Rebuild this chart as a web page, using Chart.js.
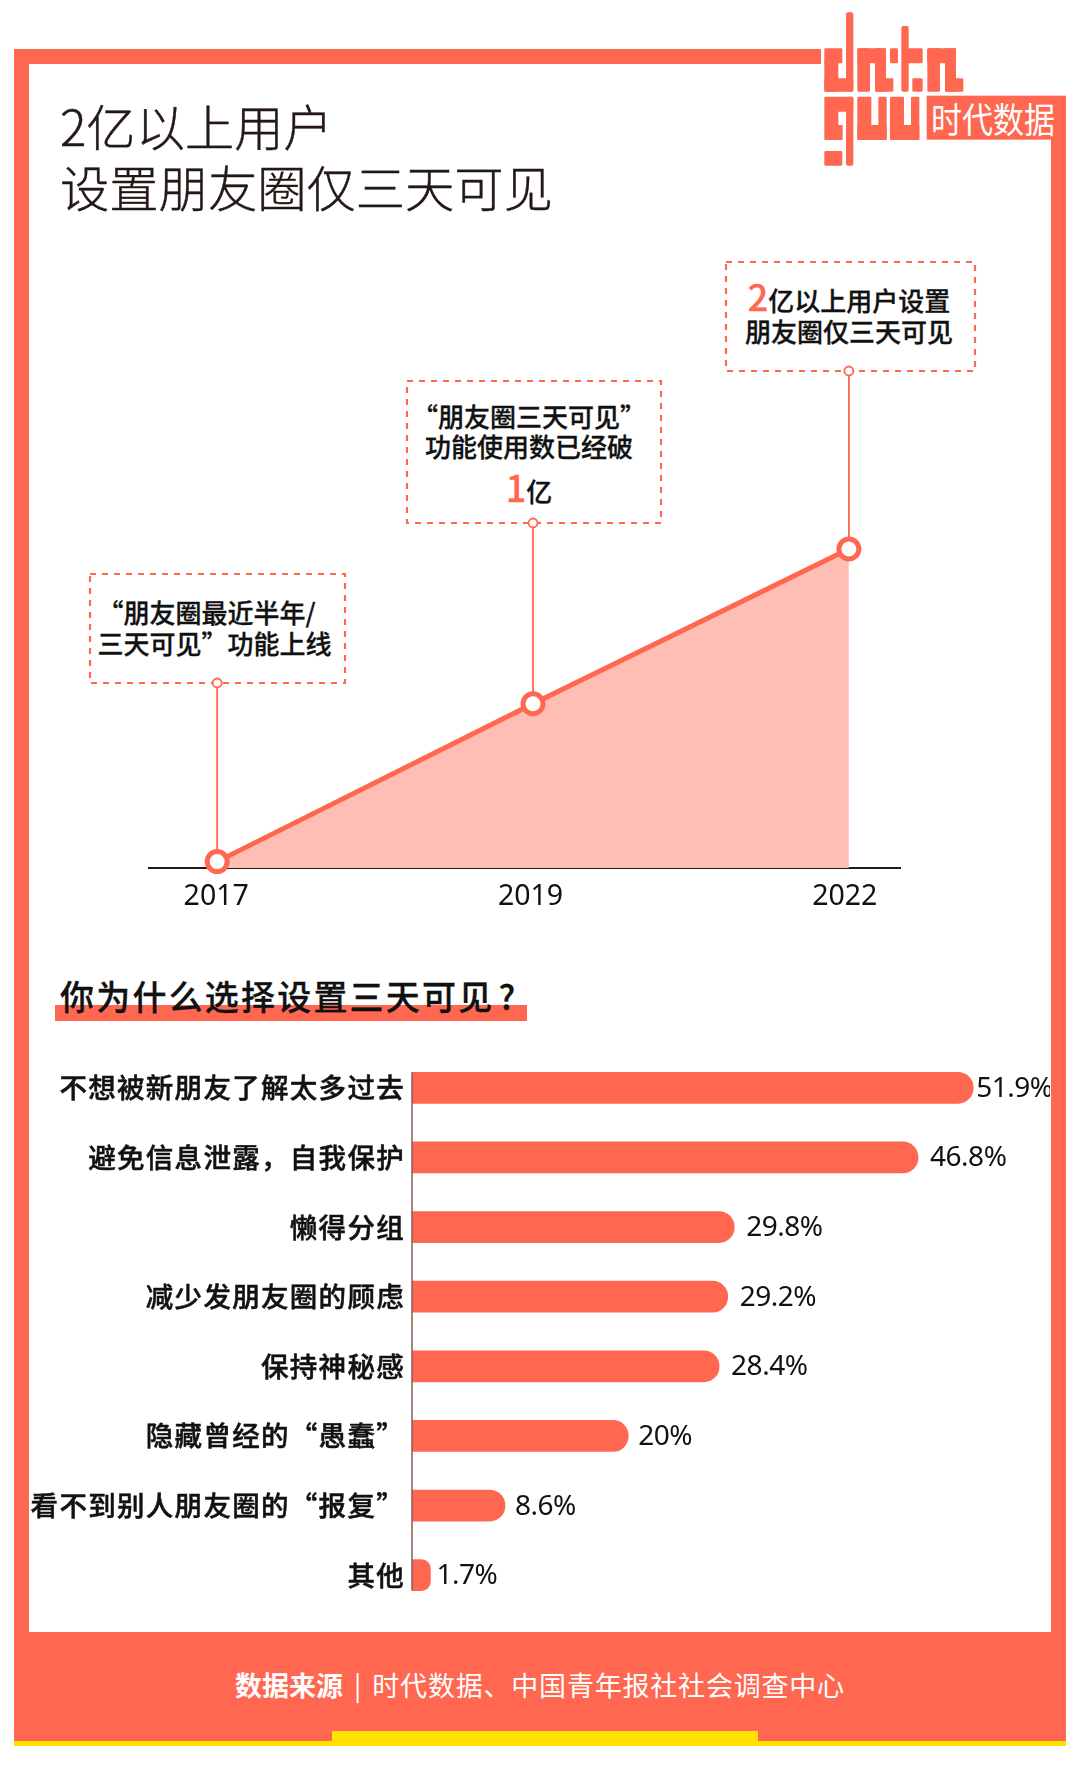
<!DOCTYPE html>
<html>
<head>
<meta charset="utf-8">
<script src="https://cdn.jsdelivr.net/npm/chart.js@4"></script>
<style>
  html, body { margin: 0; padding: 0; background: #fff; }
  body { position: relative; width: 1080px; height: 1767px; overflow: hidden; font-family: "Noto Sans CJK SC", "Noto Sans", sans-serif; color: #111; }
  .abs { position: absolute; }
  .orange { background: #ff6750; }
  .callout { position: absolute; text-align: center; font-size: 26px; font-weight: 500; line-height: 31px; white-space: nowrap; -webkit-text-stroke: 0.3px #111; }
  .callout b { color: #ff6750; font-weight: 500; font-size: 36px; -webkit-text-stroke: 0.3px #ff6750; }
  canvas { position: absolute; }
</style>
</head>
<body>
  <!-- frame -->
  <div class="abs orange" style="left:14px;top:49px;width:807px;height:15px"></div>
  <div class="abs orange" style="left:14px;top:49px;width:15px;height:1692px"></div>
  <div class="abs orange" style="left:1051px;top:96px;width:15px;height:1645px"></div>
  <div class="abs orange" style="left:14px;top:1632px;width:1052px;height:109px"></div>
  <div class="abs" style="left:14px;top:1741px;width:1052px;height:5px;background:#ffe100"></div>
  <div class="abs" style="left:332px;top:1731px;width:426px;height:10px;background:#ffe100"></div>

  <!-- logo -->
  <svg class="abs" style="left:780px;top:0" width="300" height="200" viewBox="0 0 900 600" fill="#ff6750">
    <defs>
      <g id="logoA">
        <rect x="0" y="0" width="38" height="130" rx="4"/><rect x="0" y="0" width="86" height="45" rx="4"/>
        <rect x="53" y="0" width="33" height="130" rx="4"/><rect x="53" y="90" width="55" height="40" rx="4"/>
      </g>
      <g id="logoO">
        <rect x="0" y="0" width="42" height="130" rx="4"/><rect x="63" y="0" width="25" height="130" rx="4"/><rect x="0" y="85" width="88" height="45" rx="4"/>
      </g>
    </defs>
    <rect x="133" y="145" width="54" height="45" rx="4"/><rect x="133" y="180" width="42" height="95" rx="4"/><rect x="133" y="235" width="87" height="40" rx="4"/><rect x="198" y="37" width="22" height="238" rx="6"/>
    <use href="#logoA" x="232" y="145"/>
    <rect x="330" y="145" width="24" height="45" rx="4"/><rect x="364" y="78" width="22" height="197" rx="6"/><rect x="380" y="145" width="48" height="45" rx="4"/><rect x="397" y="235" width="31" height="40" rx="4"/>
    <use href="#logoA" x="442" y="145"/>
    <rect x="133" y="290" width="87" height="45" rx="4"/><rect x="133" y="330" width="42" height="50" rx="4"/><rect x="133" y="375" width="55" height="45" rx="4"/><rect x="198" y="290" width="22" height="207" rx="6"/><rect x="133" y="453" width="54" height="44" rx="4"/>
    <use href="#logoO" x="232" y="290"/>
    <use href="#logoO" x="330" y="290"/>
    <rect x="440" y="287" width="417" height="132"/>
  </svg>
  <div class="abs" style="left:931px;top:96px;height:44px;line-height:44px;color:#fff;font-size:31px;font-weight:400;white-space:nowrap;transform:scaleY(1.12);transform-origin:0 50%">时代数据</div>

  <!-- title -->
  <div class="abs" style="left:60px;top:94px;font-size:49.3px;font-weight:300;line-height:61px;color:#231815;white-space:nowrap;-webkit-text-stroke:0.4px #231815">2亿以上用户<br>设置朋友圈仅三天可见</div>

  <!-- callouts -->
  <svg class="abs" style="left:0;top:0" width="1080" height="760" fill="none" stroke="#ff6750" stroke-width="2.2" stroke-dasharray="6 6">
    <rect x="90" y="574" width="255" height="109"/>
    <rect x="407" y="381" width="254" height="142"/>
    <rect x="726" y="262" width="249" height="109"/>
  </svg>
  <div class="callout" style="left:90px;top:596px;width:255px;padding-right:6px;box-sizing:border-box"><span style="position:relative;left:-8px">“朋友圈最近半年/</span><br>三天可见”功能上线</div>
  <div class="callout" style="left:407px;top:401px;width:254px;padding-right:10px;box-sizing:border-box;line-height:30px">“朋友圈三天可见”<br>功能使用数已经破<br><span style="position:relative;top:3px;line-height:44px"><b>1</b>亿</span></div>
  <div class="callout" style="left:726px;top:280px;width:249px;padding-right:3px;box-sizing:border-box"><b>2</b>亿以上用户设置<br>朋友圈仅三天可见</div>

  <!-- second heading -->
  <div class="abs" style="left:55px;top:1005px;width:472px;height:16px;background:#ff6750"></div>
  <div class="abs" style="left:60px;top:971px;font-size:34px;font-weight:500;line-height:50px;letter-spacing:2.2px;white-space:nowrap;-webkit-text-stroke:0.3px #111">你为什么选择设置三天可见<span style="margin-left:4px">?</span></div>

  <!-- footer -->
  <div class="abs" style="left:235px;top:1665px;font-size:27px;line-height:40px;color:#fff;white-space:nowrap"><span style="font-weight:700">数据来源</span><span style="margin:0 11px">|</span><span style="letter-spacing:0.8px">时代数据、中国青年报社社会调查中心</span></div>

  <canvas id="lineChart" style="left:148px;top:260px" width="753" height="658"></canvas>
  <canvas id="barChart" style="left:20px;top:1053px" width="1030" height="557"></canvas>

<script>
const years = ['2017', '2019', '2022'];
const users = [0.04, 1.03, 2];
const reasons = ['不想被新朋友了解太多过去', '避免信息泄露，自我保护', '懒得分组', '减少发朋友圈的顾虑', '保持神秘感', '隐藏曾经的“愚蠢”', '看不到别人朋友圈的“报复”', '其他'];
const shares = [51.9, 46.8, 29.8, 29.2, 28.4, 20, 8.6, 1.7];

const ORANGE = '#ff6750';
const calloutBottoms = [423, 263, 111]; // canvas y of each callout's lower edge

const leaders = {
  id: 'leaders',
  beforeDatasetsDraw(chart) {
    const { ctx } = chart;
    chart.getDatasetMeta(0).data.forEach((pt, i) => {
      ctx.save();
      ctx.strokeStyle = ORANGE;
      ctx.lineWidth = 1.8;
      ctx.beginPath();
      ctx.moveTo(pt.x, pt.y);
      ctx.lineTo(pt.x, calloutBottoms[i]);
      ctx.stroke();
      ctx.fillStyle = '#fff';
      ctx.beginPath();
      ctx.arc(pt.x, calloutBottoms[i], 4.5, 0, Math.PI * 2);
      ctx.fill();
      ctx.stroke();
      ctx.restore();
    });
  }
};

new Chart(document.getElementById('lineChart'), {
  type: 'line',
  data: {
    datasets: [{
      data: users.map((v, i) => ({ x: i, y: v })),
      borderColor: ORANGE,
      borderWidth: 5,
      backgroundColor: '#ffbeb4',
      fill: 'origin',
      tension: 0,
      pointRadius: 10,
      pointBorderWidth: 5,
      pointBackgroundColor: '#fff',
      pointBorderColor: ORANGE,
      clip: false,
    }],
  },
  options: {
    responsive: false,
    animation: false,
    layout: { autoPadding: false },
    plugins: { legend: { display: false }, tooltip: { enabled: false } },
    scales: {
      x: {
        type: 'linear',
        min: -0.219,
        max: 2.165,
        grid: { display: false },
        border: { color: '#231815', width: 2 },
        // year labels sit a touch left of the points in the original
        afterBuildTicks: (scale) => { scale.ticks = years.map((_, i) => ({ value: i * 0.995 - 0.003 })); },
        afterFit: (scale) => { scale.height = 50; },
        ticks: {
          autoSkip: false,
          maxRotation: 0,
          padding: 4,
          color: '#111',
          font: { family: '"Noto Sans"', size: 28.5 },
          callback: (value, i) => years[i],
        },
      },
      y: { display: false, min: 0, max: 3.812 },
    },
  },
  plugins: [leaders],
});

const barExtras = {
  id: 'barExtras',
  beforeDraw(chart) {
    chart.ctx.letterSpacing = '1.3px';
  },
  afterDatasetsDraw(chart) {
    const { ctx } = chart;
    const bars = chart.getDatasetMeta(0).data;
    ctx.save();
    // axis line only runs between the first and last bar
    ctx.strokeStyle = '#8a5a52';
    ctx.lineWidth = 1.5;
    ctx.beginPath();
    ctx.moveTo(bars[0].base, bars[0].y - 15.5);
    ctx.lineTo(bars[0].base, bars[bars.length - 1].y + 15.5);
    ctx.stroke();
    // value labels
    ctx.fillStyle = '#111';
    ctx.font = '28px "Noto Sans"';
    ctx.letterSpacing = '-0.5px';
    ctx.textBaseline = 'middle';
    bars.forEach((bar, i) => {
      const gap = i === 0 ? 3 : shares[i] > 25 ? 12 : shares[i] > 5 ? 10 : 6;
      ctx.fillText(shares[i] + '%', bar.x + gap, bar.y + 1);
    });
    ctx.restore();
  }
};

new Chart(document.getElementById('barChart'), {
  type: 'bar',
  data: {
    labels: reasons,
    datasets: [{
      data: shares,
      backgroundColor: ORANGE,
      barThickness: 31,
      borderRadius: { topLeft: 0, bottomLeft: 0, topRight: 15.5, bottomRight: 15.5 },
      borderSkipped: false,
    }],
  },
  options: {
    indexAxis: 'y',
    responsive: false,
    animation: false,
    layout: { autoPadding: false },
    plugins: { legend: { display: false }, tooltip: { enabled: false } },
    scales: {
      x: { display: false, min: 0, max: 59 },
      y: {
        grid: { display: false },
        border: { display: false },
        afterFit: (scale) => { scale.width = 392; scale.paddingTop = 0; scale.paddingBottom = 0; },
        ticks: {
          autoSkip: false,
          padding: -1,
          color: '#111',
          textStrokeColor: '#111',
          textStrokeWidth: 0.5,
          font: { family: '"Noto Sans CJK SC"', size: 27.5, weight: '500' },
        },
      },
    },
  },
  plugins: [barExtras],
});
</script>
</body>
</html>
